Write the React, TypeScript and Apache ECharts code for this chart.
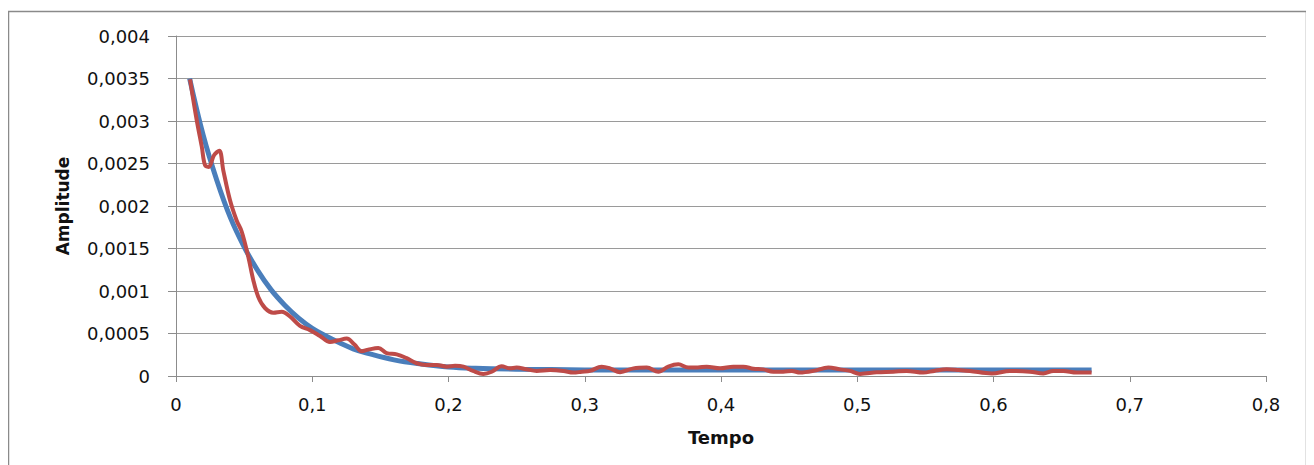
import React, { useEffect, useRef } from "react";
import * as echarts from "echarts";

const xTickLabels = ["0", "0,1", "0,2", "0,3", "0,4", "0,5", "0,6", "0,7", "0,8"];
const yTickLabels = ["0", "0,0005", "0,001", "0,0015", "0,002", "0,0025", "0,003", "0,0035", "0,004"];

const fitTime = [0.01, 0.02, 0.03, 0.04, 0.05, 0.06, 0.07, 0.08, 0.09, 0.1, 0.11, 0.12, 0.13, 0.14, 0.16, 0.18, 0.2, 0.22, 0.25, 0.3, 0.35, 0.4, 0.5, 0.6, 0.672];
const fitAmp = [0.0035, 0.00283, 0.0023, 0.00186, 0.00152, 0.00124, 0.00101, 0.00083, 0.00068, 0.00056, 0.00047, 0.00039, 0.00032, 0.00027, 0.00019, 0.00014, 0.000105, 0.00009, 0.00008, 0.000072, 0.00007, 0.00007, 0.00007, 0.00007, 0.00007];

const measTime = [0.0103, 0.0152, 0.0189, 0.0213, 0.024, 0.028, 0.0318, 0.0347, 0.0396, 0.0445, 0.0482, 0.0531, 0.0567, 0.0604, 0.0653, 0.0714, 0.0776, 0.0837, 0.091, 0.0983, 0.1057, 0.113, 0.1191, 0.1253, 0.131, 0.1363, 0.1411, 0.1485, 0.1546, 0.162, 0.1693, 0.1767, 0.184, 0.1913, 0.1987, 0.2048, 0.211, 0.218, 0.2256, 0.2317, 0.239, 0.245, 0.25, 0.257, 0.2647, 0.2745, 0.2843, 0.2916, 0.2978, 0.3039, 0.3124, 0.3185, 0.3259, 0.3357, 0.3455, 0.354, 0.3613, 0.3687, 0.376, 0.383, 0.3895, 0.3993, 0.409, 0.4164, 0.4237, 0.431, 0.4384, 0.4457, 0.452, 0.458, 0.468, 0.4788, 0.4873, 0.4947, 0.502, 0.5143, 0.5265, 0.5363, 0.5485, 0.5565, 0.5656, 0.5745, 0.5827, 0.5987, 0.6121, 0.6268, 0.6366, 0.6439, 0.6512, 0.661, 0.672];
const measAmp = [0.00349, 0.00301, 0.0027, 0.00248, 0.00246, 0.0026, 0.00265, 0.00242, 0.00207, 0.00183, 0.0017, 0.0014, 0.00113, 0.00093, 0.0008, 0.000745, 0.000757, 0.0007, 0.00059, 0.00054, 0.00047, 0.0004, 0.00042, 0.00044, 0.00037, 0.00029, 0.00031, 0.00033, 0.00027, 0.000255, 0.00021, 0.00015, 0.00013, 0.00013, 0.00011, 0.00012, 0.00011, 0.00006, 0.000025, 0.00005, 0.000115, 0.00009, 0.0001, 0.00008, 0.00006, 0.00007, 0.00006, 0.00004, 0.00005, 0.00006, 0.00011, 0.00009, 0.000045, 0.00009, 0.0001, 0.00005, 0.00011, 0.000137, 0.0001, 0.0001, 0.00011, 0.00009, 0.00011, 0.00011, 0.000085, 0.000078, 0.00005, 0.00005, 0.00006, 0.00004, 0.00006, 0.0001, 0.000078, 0.00006, 0.000025, 0.000043, 0.00005, 0.00006, 0.00004, 0.00006, 0.000078, 0.00007, 0.00006, 0.00003, 0.00006, 0.00005, 0.00003, 0.00006, 0.00006, 0.00004, 0.00004];

export default function App() {
  const ref = useRef<HTMLDivElement>(null);
  useEffect(() => {
    if (!ref.current) return;
    const chart = echarts.init(ref.current, null, { renderer: "svg" });
    const gray = "#8c8c8c";
    chart.setOption({
      animation: false,
      backgroundColor: "#ffffff",
      graphic: [
        {
          type: "rect",
          shape: { x: 0.5, y: 3.5, width: 1298, height: 460 },
          style: { fill: "none", stroke: "#8a8a8a", lineWidth: 1.5 },
          silent: true,
        },
      ],
      grid: { left: 168, right: 48, top: 28, bottom: 89 },
      xAxis: {
        type: "value",
        min: 0,
        max: 0.8,
        interval: 0.1,
        name: "Tempo",
        nameLocation: "middle",
        nameGap: 52,
        nameTextStyle: { fontFamily: "DejaVu Sans", fontWeight: "bold", fontSize: 18, color: "#111" },
        axisLine: { show: true, lineStyle: { color: gray, width: 1 } },
        axisTick: { show: true, length: 6, lineStyle: { color: gray } },
        splitLine: { show: false },
        axisLabel: {
          margin: 19,
          fontFamily: "DejaVu Sans",
          fontSize: 18,
          color: "#111",
          formatter: (v: number) => xTickLabels[Math.round(v / 0.1)] ?? "",
        },
      },
      yAxis: {
        type: "value",
        min: 0,
        max: 0.004,
        interval: 0.0005,
        name: "Amplitude",
        nameLocation: "middle",
        nameGap: 105,
        nameRotate: 90,
        nameTextStyle: { fontFamily: "DejaVu Sans", fontWeight: "bold", fontSize: 17, color: "#111" },
        axisLine: { show: true, lineStyle: { color: gray, width: 1 } },
        axisTick: { show: true, length: 8, lineStyle: { color: gray } },
        splitLine: { show: true, lineStyle: { color: "#9a9a9a", width: 1 } },
        axisLabel: {
          margin: 26,
          fontFamily: "DejaVu Sans",
          fontSize: 18,
          color: "#111",
          formatter: (v: number) => yTickLabels[Math.round(v / 0.0005)] ?? "",
        },
      },
      series: [
        {
          name: "fit",
          type: "line",
          data: fitTime.map((t, i) => [t, fitAmp[i]]),
          smooth: 0.4,
          showSymbol: false,
          lineStyle: { color: "#4a7ebb", width: 5 },
          z: 2,
        },
        {
          name: "measured",
          type: "line",
          data: measTime.map((t, i) => [t, measAmp[i]]),
          smooth: 0.35,
          showSymbol: false,
          lineStyle: { color: "#be4b48", width: 4 },
          z: 3,
        },
      ],
    });
    return () => chart.dispose();
  }, []);
  return <div ref={ref} style={{ width: 1306, height: 457 }} />;
}
